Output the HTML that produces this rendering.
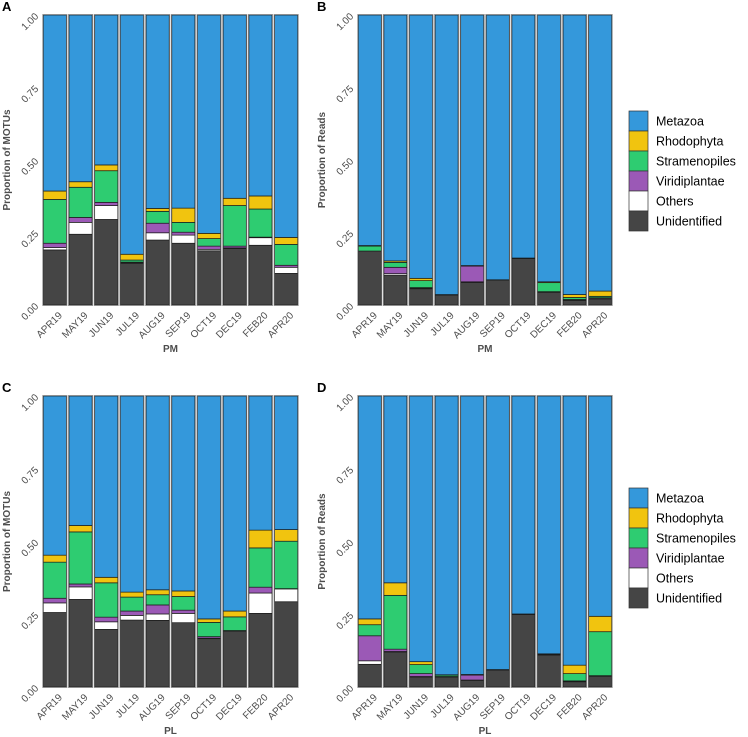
<!DOCTYPE html>
<html><head><meta charset="utf-8"><style>
body{margin:0;background:#fff;font-family:"Liberation Sans",Arial,sans-serif}
svg{display:block}
</style></head><body>
<svg id="chart" width="748" height="737" viewBox="0 0 748 737" xmlns="http://www.w3.org/2000/svg" font-family="Liberation Sans, Arial, sans-serif"></svg>
<script>
const months = ["APR19","MAY19","JUN19","JUL19","AUG19","SEP19","OCT19","DEC19","FEB20","APR20"];
const categories = ["Unidentified","Others","Viridiplantae","Stramenopiles","Rhodophyta","Metazoa"];
const yTicks = [0,0.25,0.5,0.75,1];
const yTickLabels = ["0.00","0.25","0.50","0.75","1.00"];
// Panel A (PM, MOTUs)
const aUnid = [.19,.244,.295,.144,.224,.213,.187,.195,.206,.109];
const aOth  = [.008,.041,.048,.002,.025,.028,.005,.002,.026,.021];
const aVir  = [.015,.017,.011,.002,.033,.010,.011,.006,.002,.007];
const aStr  = [.151,.104,.109,.007,.041,.034,.026,.140,.097,.072];
const aRho  = [.029,.019,.020,.020,.010,.049,.018,.025,.045,.024];
// Panel B (PM, Reads)
const bUnid = [.186,.103,.056,.034,.078,.086,.160,.044,.016,.021];
const bOth  = [0,.005,.002,.001,.002,0,0,.001,.002,.003];
const bVir  = [0,.022,.002,0,.054,0,0,.001,.001,.001];
const bStr  = [.017,.017,.024,.001,.001,.001,.002,.031,.007,.005];
const bRho  = [.002,.005,.008,0,.001,0,0,.003,.010,.018];
// Panel C (PL, MOTUs)
const cUnid = [.256,.301,.198,.230,.229,.221,.166,.192,.253,.293];
const cOth  = [.033,.043,.026,.016,.022,.032,.002,.001,.070,.044];
const cVir  = [.016,.010,.016,.015,.031,.011,.005,.001,.020,.001];
const cStr  = [.124,.179,.118,.048,.035,.047,.049,.047,.135,.163];
const cRho  = [.024,.022,.019,.017,.017,.019,.012,.020,.061,.040];
// Panel D (PL, Reads)
const dUnid = [.078,.120,.034,.034,.023,.058,.249,.110,.018,.037];
const dOth  = [.012,.002,.002,.001,.001,.001,.001,.001,.001,.001];
const dVir  = [.086,.008,.010,.001,.017,.001,.001,.001,.002,.001];
const dStr  = [.038,.185,.031,.005,.001,0,0,.001,.025,.151];
const dRho  = [.020,.043,.010,.001,.001,0,0,.001,.029,.053];

const colors = {"Unidentified":"#454545","Others":"#ffffff","Viridiplantae":"#9b59b6","Stramenopiles":"#2ecc71","Rhodophyta":"#f1c40f","Metazoa":"#3498db"};
const NS="http://www.w3.org/2000/svg";
const svg=document.getElementById('chart');
function mk(tag,attrs,parent){const e=document.createElementNS(NS,tag);for(const k in attrs)e.setAttribute(k,attrs[k]);(parent||svg).appendChild(e);return e;}

function panel(letter,x0,x1,y0,y1,series,xTitle,yTitle,key){
  const g=mk('g',{});
  
  
  const yS=v=>y0-(y0-y1)*v;
  const band=(x1-x0)/months.length;
  const xS=i=>x0+band*i;
  const lt=mk('text',{x:x0-40,y:y1-4,'font-size':13,'font-weight':'bold',fill:'#000'},g);
  lt.textContent=letter;
  
  
  months.forEach((m,i)=>{
    let cum=0;
    const bx=xS(i)+band*0.05, bw=band*0.9;
    const vals=series.map(s=>s[i]);
    const met=Math.max(0,1-vals.reduce((a,b)=>a+b,0));
    const all=vals.concat([met]);
    all.forEach((v,ci)=>{
      const yb=yS(cum), yt=yS(cum+v);
      cum+=v;
      const r=mk('rect',{x:bx,y:yt,width:bw,height:Math.max(0,yb-yt),fill:colors[categories[ci]],stroke:'#1a1a1a','stroke-width':0.7},g);
      
      
    });
    const o=mk('rect',{x:bx-0.5,y:yS(1)-0.5,width:bw+1,height:yS(0)-yS(1)+1,fill:'none',stroke:'#888','stroke-width':0.8},g);
    
    
    const tx=xS(i)+band/2+3, ty=y0+6;
    const t=mk('text',{x:tx,y:ty,'font-size':10,fill:'#4d4d4d','text-anchor':'end',transform:`rotate(-45 ${tx} ${ty}) translate(0 7)`},g);
    t.textContent=m;
    
    
  });
  yTicks.forEach((v,i)=>{
    const tx=x0-3, ty=yS(v)+2;
    const t=mk('text',{x:tx,y:ty,'font-size':10,fill:'#4d4d4d','text-anchor':'end',transform:`rotate(-45 ${tx} ${ty})`},g);
    t.textContent=yTickLabels[i];
    
    
  });
  const xt=mk('text',{x:(x0+x1)/2,y:y0+47,'font-size':10,'font-weight':'bold',fill:'#4d4d4d','text-anchor':'middle'},g);
  xt.textContent=xTitle;
  
  
  const yx=x0-32, yy=(y0+y1)/2;
  const yt=mk('text',{x:yx,y:yy,'font-size':10,'font-weight':'bold',fill:'#4d4d4d','text-anchor':'middle',transform:`rotate(-90 ${yx} ${yy})`},g);
  yt.textContent=yTitle;
  
  
}
panel('A',42,299,305,15,[aUnid,aOth,aVir,aStr,aRho],'PM','Proportion of MOTUs','a');
panel('B',357,613,305,15,[bUnid,bOth,bVir,bStr,bRho],'PM','Proportion of Reads','b');
panel('C',42,299,687,396,[cUnid,cOth,cVir,cStr,cRho],'PL','Proportion of MOTUs','c');
panel('D',357,613,687,396,[dUnid,dOth,dVir,dStr,dRho],'PL','Proportion of Reads','d');

function legend(y,key){
  const g=mk('g',{});
  
  
  const order=categories.slice().reverse();
  order.forEach((c,i)=>{
    const r=mk('rect',{x:629,y:y+i*20,width:19,height:20,fill:colors[c],stroke:'#333','stroke-width':0.7},g);
    
    
    const t=mk('text',{x:656,y:y+i*20+14.5,'font-size':12.5,fill:'#000'},g);
    t.textContent=c;
    
    
  });
}
legend(111,'top');
legend(488,'bottom');
</script>
</body></html>
